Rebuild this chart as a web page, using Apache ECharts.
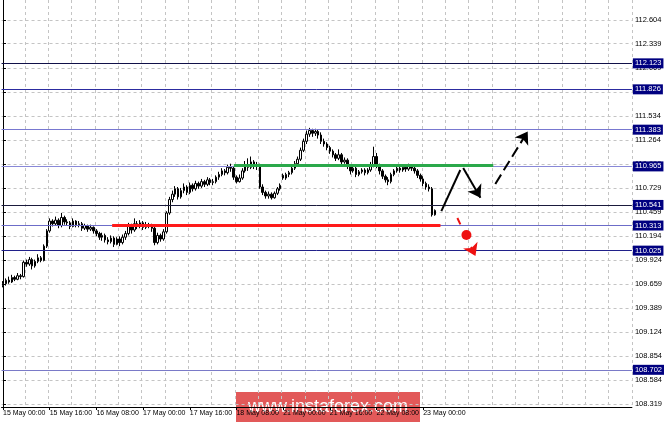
<!DOCTYPE html>
<html><head><meta charset="utf-8">
<script src="https://cdn.jsdelivr.net/npm/echarts@6/dist/echarts.min.js"></script>
<style>html,body{margin:0;padding:0;background:#fff}#c{width:665px;height:422px}</style>
</head><body><div id="c"></div><script>
// H1 candles: [open, close, low, high]
const candles = [
[109.64,109.66,109.62,109.69],[109.66,109.70,109.64,109.72],[109.70,109.68,109.66,109.74],[109.68,109.73,109.67,109.76],
[109.73,109.71,109.69,109.75],[109.71,109.75,109.70,109.78],[109.75,109.74,109.71,109.77],[109.74,109.90,109.73,109.92],
[109.90,109.88,109.85,109.93],[109.88,109.93,109.86,109.96],[109.93,109.86,109.82,109.95],[109.86,109.91,109.84,109.93],
[109.91,109.95,109.89,109.99],[109.95,109.92,109.90,109.97],[109.92,110.08,109.91,110.10],[110.08,110.25,110.06,110.27],
[110.25,110.36,110.23,110.39],[110.36,110.33,110.30,110.38],[110.33,110.37,110.31,110.41],[110.37,110.31,110.28,110.39],
[110.31,110.40,110.29,110.45],[110.40,110.35,110.32,110.42],[110.35,110.34,110.31,110.38],[110.34,110.30,110.27,110.36],
[110.30,110.36,110.29,110.39],[110.36,110.32,110.29,110.37],[110.32,110.33,110.29,110.36],[110.33,110.28,110.25,110.35],
[110.28,110.31,110.26,110.33],[110.31,110.27,110.24,110.32],[110.27,110.29,110.25,110.32],[110.29,110.25,110.22,110.30],
[110.25,110.22,110.19,110.27],[110.22,110.18,110.15,110.24],[110.18,110.20,110.14,110.23],[110.20,110.15,110.12,110.22],
[110.15,110.13,110.10,110.18],[110.13,110.17,110.11,110.20],[110.17,110.10,110.07,110.19],[110.10,110.16,110.09,110.18],
[110.16,110.12,110.08,110.19],[110.12,110.18,110.10,110.21],[110.18,110.22,110.15,110.25],[110.22,110.30,110.20,110.34],
[110.30,110.26,110.22,110.33],[110.26,110.33,110.24,110.39],[110.33,110.30,110.27,110.36],[110.30,110.34,110.28,110.37],
[110.34,110.29,110.26,110.36],[110.29,110.32,110.27,110.35],[110.32,110.31,110.28,110.34],[110.31,110.28,110.24,110.33],
[110.28,110.12,110.09,110.30],[110.12,110.20,110.10,110.23],[110.20,110.16,110.13,110.22],[110.16,110.24,110.14,110.27],
[110.24,110.45,110.22,110.47],[110.45,110.60,110.43,110.63],[110.60,110.66,110.57,110.70],[110.66,110.72,110.63,110.75],
[110.72,110.63,110.60,110.74],[110.63,110.70,110.61,110.73],[110.70,110.74,110.67,110.78],[110.74,110.68,110.65,110.76],
[110.68,110.76,110.66,110.79],[110.76,110.72,110.69,110.78],[110.72,110.78,110.70,110.81],[110.78,110.75,110.72,110.80],
[110.75,110.80,110.73,110.83],[110.80,110.77,110.74,110.82],[110.77,110.82,110.75,110.85],[110.82,110.79,110.76,110.84],
[110.79,110.80,110.76,110.83],[110.80,110.85,110.78,110.87],[110.85,110.88,110.82,110.91],[110.88,110.92,110.86,110.95],
[110.92,110.90,110.87,110.94],[110.90,110.96,110.88,110.99],[110.96,110.95,110.91,111.00],[110.95,110.85,110.82,110.97],
[110.85,110.80,110.78,110.87],[110.80,110.84,110.79,110.88],[110.84,110.92,110.82,110.95],[110.92,110.98,110.90,111.03],
[110.98,110.96,110.92,111.06],[110.96,111.02,110.94,111.08],[111.02,110.97,110.94,111.04],[110.97,110.99,110.93,111.02],
[110.99,110.74,110.72,111.00],[110.74,110.68,110.65,110.77],[110.68,110.64,110.61,110.70],[110.64,110.66,110.61,110.69],
[110.66,110.62,110.60,110.68],[110.62,110.67,110.61,110.69],[110.67,110.72,110.65,110.74],[110.72,110.76,110.70,110.78],
[110.87,110.84,110.82,110.89],[110.84,110.88,110.82,110.90],[110.88,110.90,110.85,110.92],[110.90,110.95,110.88,110.98],
[110.95,111.00,110.93,111.03],[111.00,111.05,110.98,111.08],[111.05,111.15,111.03,111.18],[111.15,111.25,111.13,111.28],
[111.25,111.33,111.22,111.37],[111.33,111.37,111.30,111.40],[111.37,111.34,111.30,111.39],[111.34,111.36,111.31,111.39],
[111.36,111.32,111.28,111.38],[111.32,111.25,111.22,111.35],[111.25,111.22,111.19,111.28],[111.22,111.18,111.15,111.24],
[111.18,111.14,111.11,111.20],[111.14,111.10,111.07,111.16],[111.10,111.06,111.03,111.12],[111.06,111.10,111.04,111.16],
[111.10,111.02,110.99,111.12],[111.02,111.04,111.00,111.07],[111.04,110.97,110.94,111.06],[110.97,110.92,110.88,110.99],
[110.92,110.95,110.90,110.97],[110.95,110.88,110.85,110.97],[110.88,110.91,110.86,110.93],[110.91,110.93,110.89,110.95],
[110.93,110.90,110.87,110.95],[110.90,110.93,110.88,110.95],[110.93,110.98,110.91,111.02],[110.98,111.08,110.96,111.19],
[111.08,110.98,110.95,111.12],[110.98,110.92,110.88,111.00],[110.92,110.86,110.83,110.94],[110.86,110.82,110.79,110.88],
[110.82,110.80,110.76,110.85],[110.80,110.88,110.78,110.90],[110.88,110.92,110.86,110.94],[110.92,110.95,110.90,110.97],
[110.95,110.93,110.90,110.97],[110.93,110.96,110.91,110.99],[110.96,110.94,110.91,110.98],[110.94,110.97,110.92,111.00],
[110.97,110.95,110.92,110.99],[110.95,110.92,110.89,110.97],[110.92,110.87,110.84,110.94],[110.87,110.83,110.80,110.89],
[110.83,110.78,110.75,110.86],[110.78,110.74,110.71,110.80],[110.74,110.72,110.69,110.77],[110.72,110.43,110.41,110.74],
[110.43,110.479,110.42,110.49]
];
const timeLabels = ["15 May 00:00","15 May 16:00","16 May 08:00","17 May 00:00","17 May 16:00","18 May 08:00","21 May 00:00","21 May 16:00","22 May 08:00","23 May 00:00"];
const yTicks = [112.604,112.339,112.069,111.799,111.534,111.264,110.999,110.729,110.459,110.194,109.924,109.659,109.389,109.124,108.854,108.584,108.319];
const levels = [112.123,111.826,111.383,110.965,110.541,110.313,110.025,108.702];
const levelColors = ['#101048','#2c2ca0','#7878d0','#8888d8','#1a1a3c','#6c6cc8','#20208a','#7a7ac8'];
const lastPrice = 110.479;
const resistance = {from: 79.1, to: 168, price: 110.98};
const support = {from: 37.4, to: 149.9, price: 110.313};
// annotation arrows in data units [barIndex, price]
const upLeg = [[150.2,110.47],[156.7,110.93]];
const downLeg = [[157.7,110.952],[163.6,110.62]];
const breakoutUp = [[168.7,110.774],[179.8,111.36]];
const breakdown = [[155.7,110.394],[161.9,109.97]];
const breakdownDot = [158.8,110.204];

const N = 216;
const cats = Array.from({length: N}, (_, i) => String(i));
const FONT = 'Liberation Sans, Arial, sans-serif';
const chart = echarts.init(document.getElementById('c'), null, {renderer: 'canvas'});

const boxLabel = (txt, bg) => ({show: true, position: 'end', distance: 1, formatter: txt,
  backgroundColor: bg, color: '#fff', fontSize: 7.5, fontFamily: FONT, padding: [1,2,1,2]});
const levelLines = levels.map((v, k) => ({
  yAxis: v,
  lineStyle: {color: levelColors[k], width: 1, type: 'solid', opacity: 1},
  label: boxLabel(v.toFixed(3), '#000080')
}));
levelLines.push({yAxis: lastPrice, lineStyle: {opacity: 0}, label: boxLabel(lastPrice.toFixed(3), '#000')});

chart.setOption({
  animation: false,
  backgroundColor: '#fff',
  grid: {left: 0, right: 33, top: 0, bottom: 15, containLabel: false},
  xAxis: [{
    type: 'category', data: cats, boundaryGap: true,
    axisLine: {show: true, lineStyle: {color: '#000', width: 1}},
    axisTick: {show: true, alignWithLabel: true, length: 3,
      interval: (i) => i % 16 === 0 && i / 16 < timeLabels.length, lineStyle: {color: '#000'}},
    axisLabel: {show: true, align: 'left', fontSize: 7, fontFamily: FONT, color: '#000', margin: 3,
      interval: (i) => i % 16 === 0 && i / 16 < timeLabels.length,
      formatter: (v, i) => timeLabels[i / 16] || ''},
    splitLine: {show: true, interval: (i) => i % 8 === 0 && i > 0,
      lineStyle: {color: '#c4c4c4', type: [3,3], width: 1}}
  }, {
    type: 'value', min: -0.5, max: N - 0.5, show: false
  }],
  yAxis: {
    type: 'value', position: 'right', min: 108.285, max: 112.827, scale: true,
    axisLine: {show: true, lineStyle: {color: '#000', width: 1}},
    axisTick: {show: true, length: 3, customValues: yTicks, lineStyle: {color: '#000'}},
    axisLabel: {show: true, customValues: yTicks, fontSize: 7.5, fontFamily: FONT, color: '#000', margin: 3,
      formatter: (v) => v.toFixed(3)},
    splitLine: {show: true, lineStyle: {color: '#c4c4c4', type: [3,3], width: 1}}
  },
  series: [{
    type: 'line', name: 'levels', xAxisIndex: 1, yAxisIndex: 0, data: [], z: 1,
    markLine: {silent: true, symbol: ['none','none'], data: levelLines}
  }, {
    type: 'candlestick', name: 'USDJPY H1', xAxisIndex: 0, yAxisIndex: 0,
    data: candles, barWidth: 2, z: 3,
    itemStyle: {color: '#ffffff', color0: '#000000', borderColor: '#000000', borderColor0: '#000000', borderWidth: 1}
  }, {
    type: 'line', name: 'annotations', xAxisIndex: 1, yAxisIndex: 0, data: [], z: 6,
    markLine: {
      silent: true, symbol: ['none','none'], label: {show: false},
      data: [
        [{coord: [support.from, support.price], lineStyle: {color: '#ff1a1a', width: 3, type: 'solid'}}, {coord: [support.to, support.price]}],
        [{coord: [resistance.from, resistance.price], lineStyle: {color: '#2aa84a', width: 3, type: 'solid'}}, {coord: [resistance.to, resistance.price]}],
        [{coord: upLeg[0], lineStyle: {color: '#000', width: 2, type: 'solid'}}, {coord: upLeg[1]}],
        [{coord: downLeg[0], lineStyle: {color: '#000', width: 2, type: 'solid'}}, {coord: downLeg[1], symbol: 'arrow', symbolSize: 12}],
        [{coord: breakoutUp[0], lineStyle: {color: '#000', width: 2, type: [11,5]}}, {coord: breakoutUp[1], symbol: 'arrow', symbolSize: 12}],
        [{coord: breakdown[0], lineStyle: {color: '#ee1111', width: 2, type: [7,9]}}, {coord: breakdown[1], symbol: 'arrow', symbolSize: 12}]
      ]
    },
    markPoint: {
      silent: true, symbol: 'circle', symbolSize: 10, label: {show: false},
      itemStyle: {color: '#ee1111'},
      data: [{coord: breakdownDot}]
    }
  }],
  graphic: [{
    type: 'group', left: 236, top: 392, z: 100,
    children: [
      {type: 'rect', shape: {x: 0, y: 0, width: 184, height: 30}, style: {fill: 'rgba(222,66,66,0.88)'}},
      {type: 'text', x: 92, y: 15, style: {text: 'www.instaforex.com', fill: '#fff', font: '18px ' + FONT, textAlign: 'center', textVerticalAlign: 'middle'}}
    ]
  }]
});
</script></body></html>
